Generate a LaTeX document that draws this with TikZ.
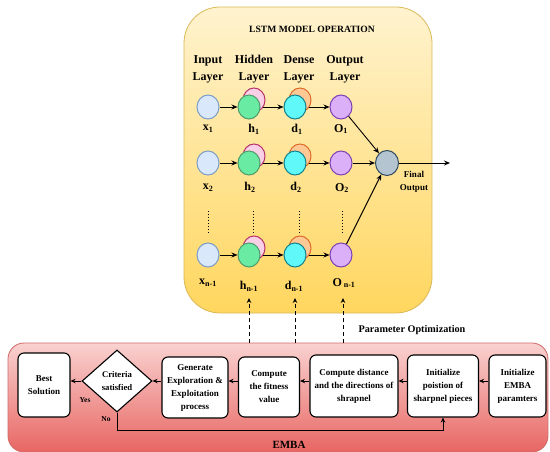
\documentclass[tikz,border=0pt]{standalone}
\usepackage{fontspec}
\setmainfont{Liberation Serif}
\usetikzlibrary{shapes.geometric,arrows.meta}
\definecolor{ylTop}{HTML}{FFF3CF}
\definecolor{ylBot}{HTML}{FFD65E}
\definecolor{ylLine}{HTML}{D9B95A}
\definecolor{rdTop}{HTML}{F9D2D0}
\definecolor{rdBot}{HTML}{E86663}
\definecolor{rdLine}{HTML}{D06A68}
\definecolor{xFill}{HTML}{DAE8FC}
\definecolor{xLine}{HTML}{7A9CC8}
\definecolor{pkFill}{HTML}{FAD0E6}
\definecolor{pkLine}{HTML}{B8306A}
\definecolor{gnFill}{HTML}{6AEBA4}
\definecolor{gnLine}{HTML}{4E9A68}
\definecolor{orFill}{HTML}{FFC996}
\definecolor{orLine}{HTML}{DC6A28}
\definecolor{cyFill}{HTML}{60F8F8}
\definecolor{cyLine}{HTML}{10808A}
\definecolor{puFill}{HTML}{DBB0F8}
\definecolor{puLine}{HTML}{7B3FB5}
\definecolor{gyFill}{HTML}{B4C4D0}
\definecolor{gyLine}{HTML}{2E4A60}
\tikzset{
  neuron/.style={ellipse, minimum width=22pt, minimum height=24pt, inner sep=0pt, line width=1pt},
  xn/.style={neuron, draw=xLine, fill=xFill},
  hb/.style={neuron, draw=pkLine, fill=pkFill},
  hf/.style={neuron, draw=gnLine, fill=gnFill},
  db/.style={neuron, draw=orLine, fill=orFill},
  df/.style={neuron, draw=cyLine, fill=cyFill},
  on/.style={neuron, draw=puLine, fill=puFill},
  fin/.style={neuron, draw=gyLine, fill=gyFill, minimum width=23pt, minimum height=25pt},
  lbl/.style={font=\bfseries\fontsize{12}{14}\selectfont, inner sep=0pt},
  layer/.style={font=\bfseries\fontsize{12}{17}\selectfont, align=center, inner sep=0pt},
  arr/.style={-{Stealth[length=6pt,width=5pt]}, line width=0.9pt},
  sarr/.style={-{Stealth[length=5pt,width=4.5pt]}, line width=0.9pt},
  dasharr/.style={-{Stealth[length=5pt,width=4.5pt]}, line width=0.9pt, dash pattern=on 4pt off 3pt},
  dotline/.style={line width=0.9pt, dash pattern=on 1pt off 2pt},
  box/.style={draw, line width=1.1pt, fill=white, rounded corners=6pt, align=center, inner sep=1pt,
    font=\bfseries\fontsize{9}{13}\selectfont},
  small/.style={font=\bfseries\fontsize{7.5}{12}\selectfont, inner sep=0pt, align=center},
}
\begin{document}
\begin{tikzpicture}[x=1pt,y=-1pt]
\useasboundingbox (0,0) rectangle (550,452);
\fill[white] (0,0) rectangle (550,452);
% panels
\draw[draw=ylLine, line width=0.8pt, top color=ylTop, bottom color=ylBot, rounded corners=36pt] (184,7) rectangle (432,313);
\draw[draw=rdLine, line width=0.8pt, top color=rdTop, bottom color=rdBot, rounded corners=16pt] (8,343) rectangle (548,452);
% titles
\node[font=\bfseries\fontsize{9.6}{11}\selectfont, inner sep=0pt] (title) at (312,29) {LSTM MODEL OPERATION};
\node[layer] (Lin) at (208,69) {Input\\Layer};
\node[layer] (Lhid) at (254,69) {Hidden\\Layer};
\node[layer] (Lden) at (299,69) {Dense\\Layer};
\node[layer] (Lout) at (345,69) {Output\\Layer};
% row 1
\node[xn] (x1) at (208,107) {};
\node[hb] (h1b) at (254,100) {};
\node[hf] (h1) at (249,107) {};
\node[db] (d1b) at (300,100) {};
\node[df] (d1) at (295,107) {};
\node[on] (o1) at (341,107) {};
% row 2
\node[xn] (x2) at (208,163) {};
\node[hb] (h2b) at (254,156) {};
\node[hf] (h2) at (249,163) {};
\node[db] (d2b) at (300,156) {};
\node[df] (d2) at (295,163) {};
\node[on] (o2) at (341,163) {};
% row n-1
\node[xn] (x3) at (208,255) {};
\node[hb] (h3b) at (254,248) {};
\node[hf] (h3) at (249,255) {};
\node[db] (d3b) at (300,248) {};
\node[df] (d3) at (295,255) {};
\node[on] (o3) at (341,255) {};
% final
\node[fin] (f) at (387,163) {};
\coordinate (fout) at (450,163);
\node[small, font=\bfseries\fontsize{9}{13}\selectfont] (flbl) at (414,182) {Final\\Output};
% labels
\node[lbl] (lx1) at (208,129) {x\textsubscript{1}};
\node[lbl] (lh1) at (254,129) {h\textsubscript{1}};
\node[lbl] (ld1) at (297,129) {d\textsubscript{1}};
\node[lbl] (lo1) at (341,129) {O\textsubscript{1}};
\node[lbl] (lx2) at (208,188) {x\textsubscript{2}};
\node[lbl] (lh2) at (250,187) {h\textsubscript{2}};
\node[lbl] (ld2) at (296,187) {d\textsubscript{2}};
\node[lbl] (lo2) at (342,188) {O\textsubscript{2}};
\node[lbl] (lx3) at (208,283) {x\textsubscript{n-1}};
\node[lbl] (lh3) at (249,286) {h\textsubscript{n-1}};
\node[lbl] (ld3) at (294,286) {d\textsubscript{n-1}};
\node[lbl] (lo3) at (344,283) {O\,\textsubscript{n-1}};
% vertical dots
\foreach \xx in {208,253,299,342} \draw[dotline] (\xx,211) -- (\xx,233);
% LSTM arrows
\draw[arr] (x1) -- (h1);
\draw[arr] ([xshift=2pt]h1.east) -- (d1);
\draw[arr] ([xshift=2pt]d1.east) -- (o1);
\draw[arr] (x2) -- (h2);
\draw[arr] ([xshift=2pt]h2.east) -- (d2);
\draw[arr] ([xshift=2pt]d2.east) -- (o2);
\draw[arr] (x3) -- (h3);
\draw[arr] ([xshift=2pt]h3.east) -- (d3);
\draw[arr] ([xshift=2pt]d3.east) -- (o3);
\draw[arr] (o1) -- (f);
\draw[arr] (o2) -- (f);
\draw[arr] (o3) -- (f);
\draw[arr] (f) -- (fout);
% parameter optimization
\coordinate (pa1) at (249,343); \coordinate (pb1) at (249,298);
\coordinate (pa2) at (295,343); \coordinate (pb2) at (295,298);
\coordinate (pa3) at (343,343); \coordinate (pb3) at (343,298);
\draw[dasharr] (pa1) -- (pb1);
\draw[dasharr] (pa2) -- (pb2);
\draw[dasharr] (pa3) -- (pb3);
\node[font=\bfseries\fontsize{10.2}{12}\selectfont, inner sep=0pt] (popt) at (412,330) {Parameter Optimization};
% EMBA boxes
\node[box, minimum width=52pt, minimum height=64pt] (best) at (44,385) {Best\\Solution};
\node[diamond, draw, line width=1.1pt, fill=white, minimum width=70pt, minimum height=62pt, aspect=1.13, inner sep=0pt,
  align=center, font=\bfseries\fontsize{8.7}{12.5}\selectfont] (crit) at (117,381) {Criteria\\satisfied};
\node[box, minimum width=66pt, minimum height=61pt] (gen) at (195,387.5) {Generate\\Exploration \&\\Exploitation\\process};
\node[box, minimum width=61pt, minimum height=60pt] (fit) at (269,387) {Compute\\the fitness\\value};
\node[box, minimum width=88pt, minimum height=62pt] (dist) at (354,386) {Compute distance\\and the directions of\\shrapnel};
\node[box, minimum width=71pt, minimum height=62pt] (ipos) at (443,386) {Initialize\\poistion of\\sharpnel pieces};
\node[box, minimum width=57pt, minimum height=62pt] (ipar) at (517.5,386) {Initialize\\EMBA\\paramters};
\coordinate (ay) at (0,381);
\draw[sarr] (ipar.west |- ay) -- (ipos.east |- ay);
\draw[sarr] (ipos.west |- ay) -- (dist.east |- ay);
\draw[sarr] (dist.west |- ay) -- (fit.east |- ay);
\draw[sarr] (fit.west |- ay) -- (gen.east |- ay);
\draw[sarr] (gen.west |- ay) -- (crit.east);
\draw[sarr] (crit.west) -- (best.east |- ay);
\coordinate (loopy) at (0,430);
\draw[sarr] (crit.south) -- (crit.south |- loopy) -- (ipos.south |- loopy) -- (ipos.south);
\node[small, font=\bfseries\fontsize{7.5}{8}\selectfont] (yes) at (85,400) {Yes};
\node[small, font=\bfseries\fontsize{7.5}{8}\selectfont] (no) at (106,419) {No};
\node[font=\bfseries\fontsize{11}{12}\selectfont, inner sep=0pt] (emba) at (289,445) {EMBA};
\end{tikzpicture}
\end{document}
